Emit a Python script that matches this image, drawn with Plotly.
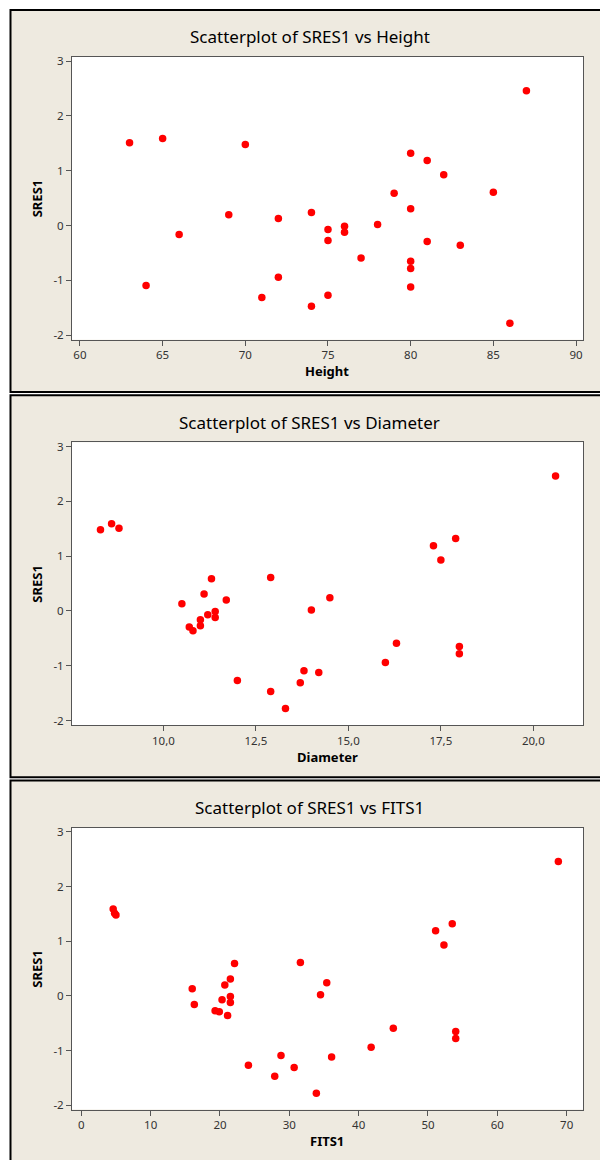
import plotly.graph_objects as go

# ---- data (cherry trees regression: standardized residuals) ----
height = [70, 65, 63, 72, 81, 83, 66, 75, 80, 75, 79, 76, 76, 69, 75, 74,
          85, 86, 71, 64, 78, 80, 74, 72, 77, 81, 82, 80, 80, 80, 87]
diameter = [8.3, 8.6, 8.8, 10.5, 10.7, 10.8, 11.0, 11.0, 11.1, 11.2, 11.3,
            11.4, 11.4, 11.7, 12.0, 12.9, 12.9, 13.3, 13.7, 13.8, 14.0, 14.2,
            14.5, 16.0, 16.3, 17.3, 17.5, 17.9, 18.0, 18.0, 20.6]
fits1 = [5.0, 4.6, 4.8, 16.0, 19.9, 21.1, 16.3, 19.3, 21.5, 20.3, 22.1,
         21.5, 21.5, 20.7, 24.1, 27.9, 31.6, 33.9, 30.7, 28.8, 34.5, 36.1,
         35.4, 41.8, 45.0, 51.1, 52.3, 53.5, 54.0, 54.0, 68.8]
sres1 = [1.48, 1.59, 1.51, 0.13, -0.29, -0.36, -0.16, -0.27, 0.31, -0.07,
         0.59, -0.12, -0.01, 0.20, -1.27, -1.47, 0.61, -1.78, -1.31, -1.09,
         0.02, -1.12, 0.24, -0.94, -0.59, 1.19, 0.93, 1.32, -0.65, -0.78, 2.46]

y_ticks = [-2, -1, 0, 1, 2, 3]
y_ticktext = ["-2", "-1", "0", "1", "2", "3"]
height_ticks = [60, 65, 70, 75, 80, 85, 90]
diam_ticks = [10.0, 12.5, 15.0, 17.5, 20.0]
diam_ticktext = ["10,0", "12,5", "15,0", "17,5", "20,0"]
fits_ticks = [0, 10, 20, 30, 40, 50, 60, 70]

titles = ["Scatterplot of SRES1 vs Height",
          "Scatterplot of SRES1 vs Diameter",
          "Scatterplot of SRES1 vs FITS1"]
xlabels = ["Height", "Diameter", "FITS1"]

W, H = 600, 1160
BEIGE = "#EEEAE0"
FONT = "Noto Sans"

def px(x):
    return x / W

def py(y):
    return 1 - y / H

panel_tops = [6, 393.7, 781.3]
panel_bottoms = [390.3, 778, 1170]
plot_left, plot_right = 72, 583.3
plot_tops = [53.3, 441, 828.7]
plot_bottoms = [337.7, 725.4, 1112.3]

xs = [height, diameter, fits1]
xranges = [[59.52, 90.44], [7.53, 21.35], [-1.34, 72.4]]

fig = go.Figure()
shapes = []
annotations = []
layout = dict(
    width=W, height=H,
    margin=dict(l=0, r=0, t=0, b=0),
    paper_bgcolor="white",
    plot_bgcolor="white",
    showlegend=False,
    font=dict(family=FONT, color="#333333", size=12),
)

for i in range(3):
    xa = "x" if i == 0 else f"x{i+1}"
    ya = "y" if i == 0 else f"y{i+1}"
    xkey = "xaxis" if i == 0 else f"xaxis{i+1}"
    ykey = "yaxis" if i == 0 else f"yaxis{i+1}"
    fig.add_trace(go.Scatter(
        x=xs[i], y=sres1, mode="markers", xaxis=xa, yaxis=ya,
        marker=dict(color="#FF0000", size=7.5, line=dict(width=0)),
        hoverinfo="skip"))

    if i == 0:
        xt = dict(tickvals=height_ticks, ticktext=[str(v) for v in height_ticks])
    elif i == 1:
        xt = dict(tickvals=diam_ticks, ticktext=diam_ticktext)
    else:
        xt = dict(tickvals=fits_ticks, ticktext=[str(v) for v in fits_ticks])

    common = dict(showgrid=False, zeroline=False, showline=True, mirror=True,
                  linecolor="#555555", linewidth=1, ticks="outside",
                  ticklen=5, tickwidth=1, tickcolor="#555555",
                  tickfont=dict(family=FONT, size=11.5, color="#333333"),
                  fixedrange=True)
    layout[xkey] = dict(domain=[px(plot_left), px(plot_right)],
                        range=xranges[i], anchor=ya, tickmode="array",
                        **xt, **common)
    layout[ykey] = dict(domain=[py(plot_bottoms[i]), py(plot_tops[i])],
                        range=[-2.08, 3.076], anchor=xa, tickmode="array",
                        tickvals=y_ticks, ticktext=y_ticktext, **common)

    # panel background with black border
    shapes.append(dict(type="rect", xref="paper", yref="paper", layer="below",
                       x0=px(10.5), x1=px(640),
                       y0=py(panel_bottoms[i]), y1=py(panel_tops[i]),
                       fillcolor=BEIGE, line=dict(color="black", width=2)))
    # white plot area
    shapes.append(dict(type="rect", xref="paper", yref="paper", layer="below",
                       x0=px(plot_left), x1=px(plot_right),
                       y0=py(plot_bottoms[i]), y1=py(plot_tops[i]),
                       fillcolor="white", line=dict(width=0)))

    off = panel_tops[i] - panel_tops[0]
    annotations.append(dict(text=titles[i], xref="paper", yref="paper",
                            x=px(309.5), y=py(33 + off), showarrow=False,
                            xanchor="center", yanchor="middle",
                            font=dict(family=FONT, size=17, color="black")))
    annotations.append(dict(text="<b>" + xlabels[i] + "</b>", xref="paper",
                            yref="paper", x=px(327.5),
                            y=py(plot_bottoms[i] + 32), showarrow=False,
                            xanchor="center", yanchor="middle",
                            font=dict(family=FONT, size=13, color="black")))
    annotations.append(dict(text="<b>SRES1</b>", xref="paper", yref="paper",
                            x=px(37), y=py((plot_tops[i] + plot_bottoms[i]) / 2),
                            showarrow=False, textangle=-90,
                            xanchor="center", yanchor="middle",
                            font=dict(family=FONT, size=13, color="black")))

layout["shapes"] = shapes
layout["annotations"] = annotations
fig.update_layout(**layout)
fig.write_html("out.html",
               config={"displayModeBar": False},
               post_script="document.body.style.margin='0px';"
                           "document.body.style.overflow='hidden';")
